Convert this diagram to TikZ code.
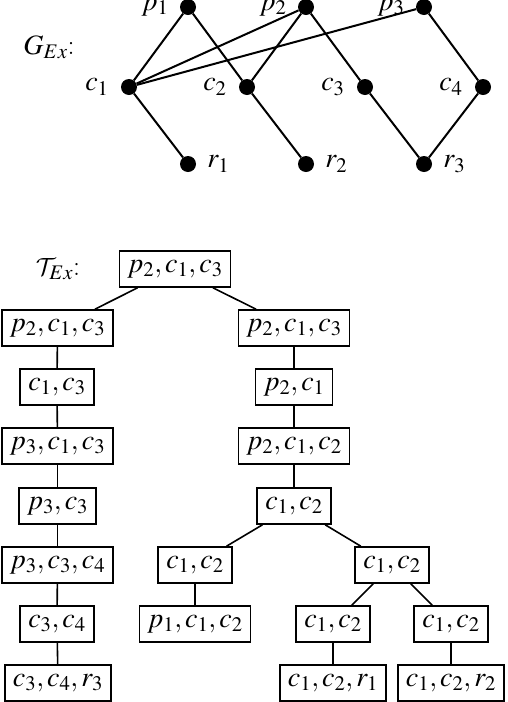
\documentclass[tikz,border=0pt]{standalone}
\usepackage{mathptmx}
\DeclareMathAlphabet{\mathcal}{OMS}{cmsy}{m}{n}
\usetikzlibrary{positioning}
\begin{document}
\begin{tikzpicture}[x=1pt,y=-1pt,
  txt/.style={font=\fontsize{28}{32}\selectfont},
  dot/.style={circle,fill=black,inner sep=0pt,minimum size=16pt},
  lbl/.style={txt,inner sep=0pt},
  box/.style={txt,draw,line width=1.6pt,inner xsep=8pt,inner ysep=0pt,minimum height=36pt},
  edge/.style={line width=1.6pt},
  gedge/.style={line width=2pt}]
\useasboundingbox (0,0) rectangle (508,702);
% graph G_Ex
\node[lbl] (G) at (49,47) {$G_{Ex}$:};
\node[dot] (p1) at (188,7) {};
\node[dot] (p2) at (306,7) {};
\node[dot] (p3) at (424,7) {};
\node[dot] (c1) at (129,87) {};
\node[dot] (c2) at (247,87) {};
\node[dot] (c3) at (365,87) {};
\node[dot] (c4) at (483,87) {};
\node[dot] (r1) at (188,164) {};
\node[dot] (r2) at (306,164) {};
\node[dot] (r3) at (424,164) {};
\node[lbl,left=11pt of p1] (lp1) {$p_1$};
\node[lbl,left=11pt of p2] (lp2) {$p_2$};
\node[lbl,left=11pt of p3] (lp3) {$p_3$};
\node[lbl,left=12pt of c1] (lc1) {$c_1$};
\node[lbl,left=12pt of c2] (lc2) {$c_2$};
\node[lbl,left=12pt of c3] (lc3) {$c_3$};
\node[lbl,left=12pt of c4] (lc4) {$c_4$};
\node[lbl,right=11pt of r1] (lr1) {$r_1$};
\node[lbl,right=11pt of r2] (lr2) {$r_2$};
\node[lbl,right=11pt of r3] (lr3) {$r_3$};
\foreach \a/\b in {p1/c1,p1/c2,p2/c1,p2/c2,p2/c3,p3/c1,p3/c4,c1/r1,c2/r2,c3/r3,c4/r3}
  \draw[gedge] (\a) -- (\b);
% tree T_Ex
\node[lbl] (T) at (58,269) {$\mathcal{T}_{Ex}$:};
\node[box] (n0) at (175,269) {$p_2, c_1, c_3$};
\node[box] (a1) at (57.5,328) {$p_2, c_1, c_3$};
\node[box] (a2) at (57,387) {$c_1, c_3$};
\node[box] (a3) at (57.5,446) {$p_3, c_1, c_3$};
\node[box] (a4) at (57.5,506) {$p_3, c_3$};
\node[box] (a5) at (57.5,565) {$p_3, c_3, c_4$};
\node[box] (a6) at (57,624) {$c_3, c_4$};
\node[box] (a7) at (58,683) {$c_3, c_4, r_3$};
\node[box] (b1) at (294,328) {$p_2, c_1, c_3$};
\node[box] (b2) at (294,387) {$p_2, c_1$};
\node[box] (b3) at (294,446) {$p_2, c_1, c_2$};
\node[box] (b4) at (294,506) {$c_1, c_2$};
\node[box] (d1) at (195,565) {$c_1, c_2$};
\node[box] (d2) at (195,624) {$p_1, c_1, c_2$};
\node[box] (e1) at (392,565) {$c_1, c_2$};
\node[box] (f1) at (333,624) {$c_1, c_2$};
\node[box] (f2) at (333,683) {$c_1, c_2, r_1$};
\node[box] (g1) at (451,624) {$c_1, c_2$};
\node[box] (g2) at (451,683) {$c_1, c_2, r_2$};
\foreach \a/\b in {n0/a1,a1/a2,a2/a3,a3/a4,a4/a5,a5/a6,a6/a7,n0/b1,b1/b2,b2/b3,b3/b4,b4/d1,d1/d2,b4/e1,e1/f1,f1/f2,e1/g1,g1/g2}
  \draw[edge] (\a) -- (\b);
\end{tikzpicture}
\end{document}
